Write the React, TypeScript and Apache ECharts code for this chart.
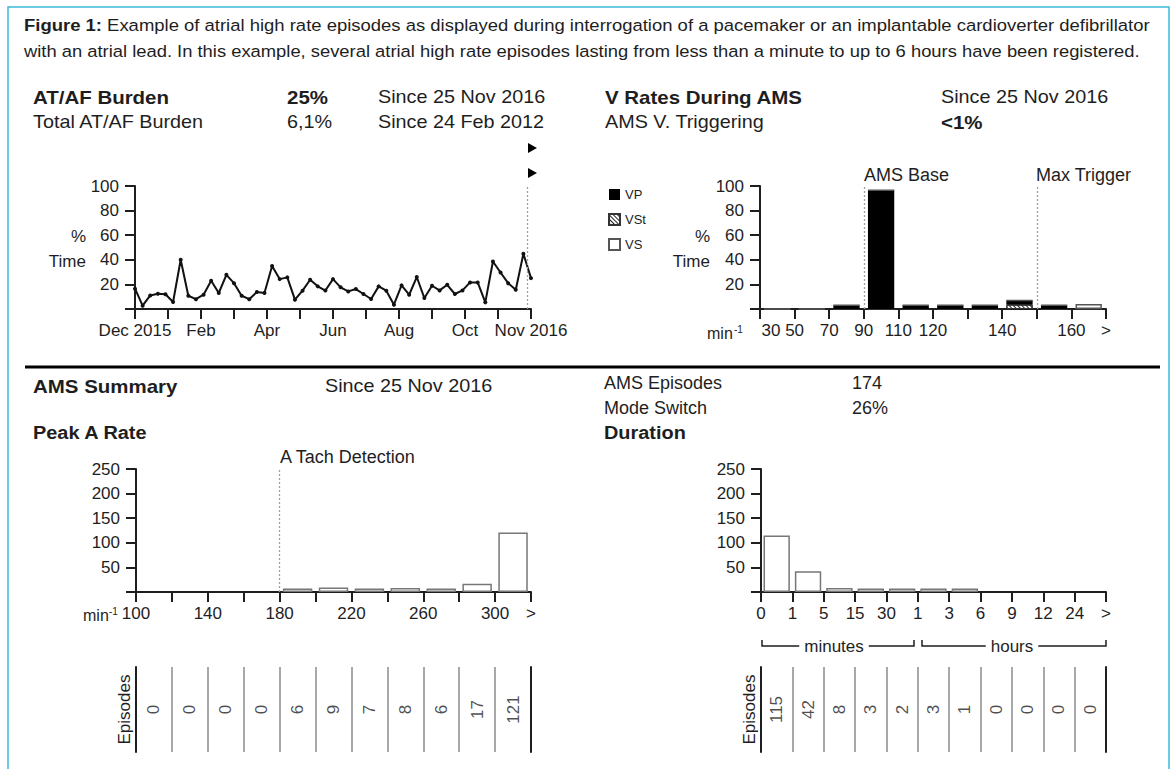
import React, { useEffect, useRef } from "react";
import * as echarts from "echarts";

const FONT = "'Liberation Sans', Arial, sans-serif";
const INK = "#1e1e1e";
const GREY_LINE = "#a8a8a8";
const STRETCH = 1.1;

// ---------- caption ----------
const captionLead = "Figure 1:";
const captionLine1 =
  "Example of atrial high rate episodes as displayed during interrogation of a pacemaker or an implantable cardioverter defibrillator";
const captionLine2 =
  "with an atrial lead. In this example, several atrial high rate episodes lasting from less than a minute to up to 6 hours have been registered.";

// ---------- AT/AF burden (weekly % time) ----------
const burdenPct = [
  16.5, 2.7, 11, 12.4, 12, 5.7, 40, 10.8, 8, 11.6, 23, 13, 27.8, 21, 10.8, 8, 13.8, 13, 35, 24.3,
  25.7, 7.6, 14.9, 23.8, 18.4, 15, 24.3, 17.6, 14.3, 16.2, 12.2, 8.1, 18.4, 14.9, 3.5, 19.2, 11.6,
  26, 8.9, 18.9, 15.1, 19.7, 12.2, 15.1, 21.6, 21.6, 5.4, 38.6, 29.7, 21, 15.7, 44.9, 25.1,
];
const burdenWeeks = burdenPct.map((_, i) => `W${i + 1}`);
const burdenMonthTicks = ["Dec 2015", "", "Feb", "", "Apr", "", "Jun", "", "Aug", "", "Oct", "", "Nov 2016"];
const sessionMarks = [11.72, 11.9]; // in months from Dec 2015
const sessionMarkTops = [121, 100];

// ---------- V rates during AMS ----------
const vRateBins = ["30–50", "50–70", "70–90", "90–110", "110–120", "120–130", "130–140", "140–150", "150–160", "160–>"];
const vRateTicks = ["30", "50", "70", "90", "110", "120", "", "140", "", "160", ">"];
const vpPct = [0, 0, 3, 96.5, 3, 3, 3, 3.5, 3, 0];
const vstPct = [0, 0, 0, 0, 0, 0, 0, 3.5, 0, 0];
const vsPct = [0, 0, 0, 0, 0, 0, 0, 0, 0, 4];
const amsBaseTick = 3;
const maxTriggerTick = 8;

// ---------- Peak A rate ----------
const peakBins = ["100–120", "120–140", "140–160", "160–180", "180–200", "200–220", "220–240", "240–260", "260–280", "280–300", "300–>"];
const peakTicks = ["100", "", "140", "", "180", "", "220", "", "260", "", "300", ">"];
const peakEpisodes = [0, 0, 0, 0, 6, 9, 7, 8, 6, 17, 121];
const aTachTick = 4;

// ---------- Duration ----------
const durationBins = ["0–1 min", "1–5 min", "5–15 min", "15–30 min", "30–60 min", "1–3 h", "3–6 h", "6–9 h", "9–12 h", "12–24 h", "24 h–>"];
const durationTicks = ["0", "1", "5", "15", "30", "1", "3", "6", "9", "12", "24", ">"];
const durationEpisodes = [115, 42, 8, 3, 2, 3, 1, 0, 0, 0, 0];

const TICK_FS = 17;

function tickAxis(gridIndex: number, labels: string[], firstPad = 0) {
  return {
    gridIndex,
    type: "value",
    position: "bottom",
    min: 0,
    max: labels.length - 1,
    interval: 1,
    axisLine: { show: true, onZero: false, lineStyle: { color: INK, width: 2 } },
    axisTick: { show: true, length: 10, lineStyle: { color: INK, width: 2 } },
    axisLabel: {
      formatter: (v: number) => {
        const i = Math.round(v);
        const s = labels[i] ?? "";
        return i === 0 && firstPad > 0 && s ? `{f|${s}}` : s;
      },
      rich: { f: { padding: [0, 0, 0, firstPad], fontSize: TICK_FS, fontFamily: FONT, color: INK } },
      fontSize: TICK_FS,
      fontFamily: FONT,
      color: INK,
      margin: 13,
    },
    splitLine: { show: false },
  };
}

function hiddenCat(gridIndex: number, data: string[], boundaryGap = true) {
  return { gridIndex, type: "category", position: "bottom", data, boundaryGap, show: false };
}

function valueY(gridIndex: number, max: number, interval: number) {
  return {
    gridIndex,
    type: "value",
    position: "left",
    min: 0,
    max,
    interval,
    axisLine: { show: true, lineStyle: { color: INK, width: 2 } },
    axisTick: { show: true, length: 10, lineStyle: { color: INK, width: 2 } },
    axisLabel: {
      formatter: (v: number) => (v === 0 ? "" : String(v)),
      fontSize: TICK_FS,
      fontFamily: FONT,
      color: INK,
      margin: 16,
    },
    splitLine: { show: false },
  };
}

function tableX(gridIndex: number, data: string[]) {
  return {
    gridIndex,
    type: "category",
    position: "bottom",
    data,
    boundaryGap: true,
    axisLine: { show: false },
    axisTick: { show: false },
    axisLabel: { show: false },
    splitLine: { show: true, interval: 0, lineStyle: { color: GREY_LINE, width: 2 } },
  };
}

function tableY(gridIndex: number, position: string, withLabel: boolean) {
  return {
    gridIndex,
    type: "category",
    data: ["Episodes"],
    position,
    axisLine: { show: true, lineStyle: { color: INK, width: 2 } },
    axisTick: { show: false },
    axisLabel: { show: withLabel, rotate: 90, fontSize: TICK_FS, fontFamily: FONT, color: INK, margin: 3 },
    splitLine: { show: false },
  };
}

function tableSeries(xAxisIndex: number, yAxisIndex: number, counts: number[]) {
  return {
    type: "scatter",
    xAxisIndex,
    yAxisIndex,
    symbolSize: 1,
    silent: true,
    itemStyle: { color: "transparent" },
    data: counts.map((c, i) => [i, 0, c]),
    label: {
      show: true,
      position: "inside",
      rotate: 90,
      formatter: (p: any) => String(p.value[2]),
      fontSize: 17,
      fontFamily: FONT,
      color: INK,
    },
  };
}

const refLine = { color: "#a0a0a0", type: [2, 2], width: 1.3 };

function txt(x: number, y: number, text: string, opts: any = {}) {
  return {
    type: "text",
    x,
    y,
    scaleX: opts.stretch ? STRETCH : 1,
    silent: true,
    style: {
      text,
      fontSize: opts.fontSize ?? 18,
      fontFamily: FONT,
      fontWeight: opts.bold ? "bold" : "normal",
      fill: INK,
      align: opts.align ?? "left",
      verticalAlign: "middle",
      backgroundColor: opts.bg,
      padding: opts.padding,
    },
  };
}

function head(x: number, y: number, text: string, bold = false) {
  return txt(x, y, text, { stretch: true, bold, fontSize: bold ? 18.6 : 18 });
}

function buildOption() {
  const graphics: any[] = [
    {
      type: "rect",
      shape: { x: 8, y: 7, width: 1161, height: 800 },
      style: { fill: "none", stroke: "#3cb9d9", lineWidth: 1.5 },
      silent: true,
    },
    {
      type: "text",
      x: 24,
      y: 25,
      scaleX: STRETCH,
      style: {
        text: `{b|${captionLead}} ${captionLine1}`,
        fontSize: 16.8,
        fontFamily: FONT,
        fill: INK,
        verticalAlign: "middle",
        rich: { b: { fontWeight: "bold", fontSize: 16.8, fontFamily: FONT, fill: INK } },
      },
    },
    txt(24, 51, captionLine2, { fontSize: 16.7, stretch: true }),

    // top left header
    head(33, 97, "AT/AF Burden", true),
    head(287, 97, "25%", true),
    head(378, 97, "Since 25 Nov 2016"),
    head(33, 122, "Total AT/AF Burden"),
    head(287, 122, "6,1%"),
    head(378, 122, "Since 24 Feb 2012"),
    txt(86, 236, "%", { align: "right", fontSize: TICK_FS }),
    txt(86, 261, "Time", { align: "right", fontSize: TICK_FS }),
    {
      type: "polygon",
      shape: { points: [[528, 143], [537, 148], [528, 153]] },
      style: { fill: "#000" },
      silent: true,
    },
    {
      type: "polygon",
      shape: { points: [[528, 168], [537, 173], [528, 178]] },
      style: { fill: "#000" },
      silent: true,
    },

    // top right header
    head(605, 97, "V Rates During AMS", true),
    head(941, 97, "Since 25 Nov 2016"),
    head(605, 122, "AMS V. Triggering"),
    head(941, 122, "<1%", true),
    txt(710, 236, "%", { align: "right", fontSize: TICK_FS }),
    txt(710, 261, "Time", { align: "right", fontSize: TICK_FS }),
    txt(864, 175, "AMS Base", { fontSize: 18 }),
    txt(1036, 175, "Max Trigger", { fontSize: 18 }),
    txt(707, 333, "min", { fontSize: 16 }),
    txt(734, 329, "-1", { fontSize: 10 }),

    // divider
    {
      type: "line",
      shape: { x1: 25, y1: 367, x2: 1160, y2: 367 },
      style: { stroke: "#000", lineWidth: 3 },
      silent: true,
    },

    // bottom headers
    head(33, 386, "AMS Summary", true),
    head(325, 386, "Since 25 Nov 2016"),
    txt(604, 383, "AMS Episodes", { fontSize: 18 }),
    txt(852, 383, "174", { fontSize: 18 }),
    txt(604, 408, "Mode Switch", { fontSize: 18 }),
    txt(852, 408, "26%", { fontSize: 18 }),
    txt(33, 433, "Peak A Rate", { stretch: true, bold: true, fontSize: 18.1 }),
    txt(604, 433, "Duration", { stretch: true, bold: true, fontSize: 18.1 }),
    txt(280, 457, "A Tach Detection", { fontSize: 18 }),
    txt(83, 615, "min", { fontSize: 16 }),
    txt(109, 611, "-1", { fontSize: 10 }),

    // minutes / hours brackets
    {
      type: "polyline",
      shape: { points: [[762, 640], [762, 646], [914, 646], [914, 640]] },
      style: { stroke: INK, lineWidth: 1.5, fill: "none" },
      silent: true,
    },
    {
      type: "polyline",
      shape: { points: [[922, 640], [922, 646], [1106, 646], [1106, 640]] },
      style: { stroke: INK, lineWidth: 1.5, fill: "none" },
      silent: true,
    },
    txt(834, 646, "minutes", { align: "center", fontSize: TICK_FS, bg: "#fff", padding: [0, 5] }),
    txt(1012, 646, "hours", { align: "center", fontSize: TICK_FS, bg: "#fff", padding: [0, 5] }),
  ];

  return {
    animation: false,
    backgroundColor: "#fff",
    textStyle: { fontFamily: FONT },
    legend: {
      orient: "vertical",
      left: 603,
      top: 183,
      itemWidth: 11,
      itemHeight: 11,
      itemGap: 12,
      icon: "rect",
      selectedMode: false,
      data: ["VP", "VSt", "VS"],
      textStyle: { fontSize: 13, fontFamily: FONT, color: INK },
    },
    grid: [
      { left: 135, top: 186, width: 396, height: 123 },
      { left: 760, top: 186, width: 346, height: 123 },
      { left: 136, top: 469, width: 395, height: 123 },
      { left: 761, top: 469, width: 345, height: 123 },
      { left: 136, top: 667, width: 395, height: 85 },
      { left: 761, top: 667, width: 345, height: 85 },
    ],
    xAxis: [
      hiddenCat(0, burdenWeeks, false), // 0
      tickAxis(0, burdenMonthTicks), // 1
      hiddenCat(1, vRateBins), // 2
      tickAxis(1, vRateTicks, 22), // 3
      hiddenCat(2, peakBins), // 4
      tickAxis(2, peakTicks), // 5
      hiddenCat(3, durationBins), // 6
      tickAxis(3, durationTicks), // 7
      tableX(4, peakBins), // 8
      tableX(5, durationBins), // 9
    ],
    yAxis: [
      valueY(0, 100, 20), // 0
      valueY(1, 100, 20), // 1
      valueY(2, 250, 50), // 2
      valueY(3, 250, 50), // 3
      tableY(4, "left", true), // 4
      tableY(4, "right", false), // 5
      tableY(5, "left", true), // 6
      tableY(5, "right", false), // 7
    ],
    series: [
      {
        type: "line",
        name: "AT/AF Burden",
        xAxisIndex: 0,
        yAxisIndex: 0,
        data: burdenPct,
        symbol: "circle",
        symbolSize: 4,
        showSymbol: true,
        lineStyle: { color: "#111", width: 2 },
        itemStyle: { color: "#111" },
        z: 3,
      },
      {
        type: "line",
        xAxisIndex: 1,
        yAxisIndex: 0,
        data: [],
        clip: false,
        silent: true,
        z: 1,
        markLine: {
          silent: true,
          animation: false,
          symbol: "none",
          label: { show: false },
          lineStyle: refLine,
          data: sessionMarks.map((m, i) => [{ coord: [m, 0] }, { coord: [m, sessionMarkTops[i]] }]),
        },
      },
      {
        type: "bar",
        name: "VSt",
        xAxisIndex: 2,
        yAxisIndex: 1,
        stack: "v",
        barWidth: "76%",
        data: vstPct,
        itemStyle: {
          color: "#fff",
          borderColor: "#333",
          borderWidth: 1,
          decal: {
            symbol: "rect",
            symbolSize: 1,
            dashArrayX: [1, 0],
            dashArrayY: [1, 2],
            rotation: Math.PI / 4,
            color: "#222",
          },
        },
      },
      {
        type: "bar",
        name: "VP",
        xAxisIndex: 2,
        yAxisIndex: 1,
        stack: "v",
        barWidth: "76%",
        data: vpPct,
        itemStyle: { color: "#000" },
      },
      {
        type: "bar",
        name: "VS",
        xAxisIndex: 2,
        yAxisIndex: 1,
        stack: "v",
        barWidth: "76%",
        data: vsPct,
        itemStyle: { color: "#fff", borderColor: "#555", borderWidth: 1.5 },
      },
      {
        type: "line",
        xAxisIndex: 3,
        yAxisIndex: 1,
        data: [],
        silent: true,
        markLine: {
          silent: true,
          animation: false,
          symbol: "none",
          label: { show: false },
          lineStyle: refLine,
          data: [{ xAxis: amsBaseTick }, { xAxis: maxTriggerTick }],
        },
      },
      {
        type: "bar",
        name: "Peak A Rate",
        xAxisIndex: 4,
        yAxisIndex: 2,
        barWidth: "82%",
        barMinHeight: 3.5,
        data: peakEpisodes.map((v) => (v === 0 ? "-" : v)),
        itemStyle: { color: "#fff", borderColor: "#777", borderWidth: 1.5 },
      },
      {
        type: "line",
        xAxisIndex: 5,
        yAxisIndex: 2,
        data: [],
        silent: true,
        markLine: {
          silent: true,
          animation: false,
          symbol: "none",
          label: { show: false },
          lineStyle: refLine,
          data: [{ xAxis: aTachTick }],
        },
      },
      {
        type: "bar",
        name: "Duration",
        xAxisIndex: 6,
        yAxisIndex: 3,
        barWidth: "84%",
        barMinHeight: 3.5,
        data: durationEpisodes.map((v) => (v === 0 ? "-" : v)),
        itemStyle: { color: "#fff", borderColor: "#777", borderWidth: 1.5 },
      },
      tableSeries(8, 4, peakEpisodes),
      tableSeries(9, 6, durationEpisodes),
    ],
    graphic: graphics,
  };
}

export default function App() {
  const ref = useRef<HTMLDivElement>(null);
  useEffect(() => {
    if (!ref.current) return;
    const chart = echarts.init(ref.current, undefined, { renderer: "svg" });
    chart.setOption(buildOption() as any);
    return () => chart.dispose();
  }, []);
  return (
    <div
      ref={ref}
      style={{ position: "fixed", left: 0, top: 0, width: 1176, height: 769, background: "#fff" }}
    />
  );
}
